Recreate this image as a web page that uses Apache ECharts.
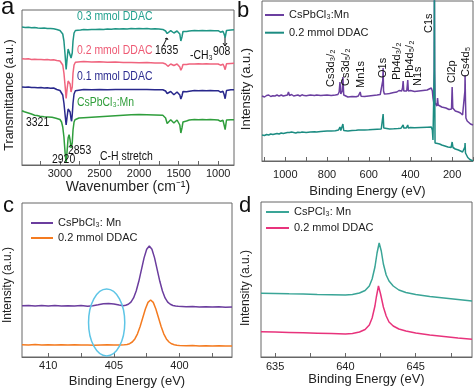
<!DOCTYPE html>
<html><head><meta charset="utf-8">
<script src="https://cdn.jsdelivr.net/npm/echarts@6/dist/echarts.min.js"></script>
<style>html,body{margin:0;padding:0;background:#fff}#c{width:474px;height:389px}</style>
</head><body><div id="c"></div>
<script>
// ---------- Panel a: FTIR (wavenumber, transmittance a.u.) ----------
const ftirTickValues = [1000, 1250, 1500, 1750, 2000, 2250, 2500, 2750, 3000, 3250];
const ftirLabelValues = [1000, 1500, 2000, 2500, 3000];
const ftir03 = [[3480,138],[3440,137.6],[3400,137.8],[3360,137.2],[3320,137.5],[3280,137],[3240,136.8],[3200,136.9],[3160,136.4],[3120,136.5],[3080,136.2],[3040,135.5],[3000,134.5],[2980,133.5],[2965,131],[2950,124],[2935,110],[2922,95.5],[2910,106],[2897,116],[2885,118],[2872,114],[2860,107],[2853,105.5],[2845,112],[2835,124],[2822,132],[2805,134.5],[2780,135.2],[2740,135],[2700,135.4],[2650,135.2],[2600,135.6],[2550,135.4],[2500,135.8],[2450,135.6],[2400,136],[2350,135.8],[2300,136.2],[2250,136],[2200,136.3],[2150,136.1],[2100,136.4],[2050,136.2],[2000,136.4],[1950,136.2],[1900,136.4],[1850,136.1],[1800,136.3],[1750,136],[1700,135.6],[1665,134],[1645,131.5],[1635,131],[1622,133.5],[1600,134.3],[1580,133.5],[1560,132],[1545,133],[1520,134],[1500,134],[1485,131],[1472,124],[1465,123.5],[1458,128],[1445,133.5],[1420,134],[1400,133.5],[1380,132.5],[1365,134],[1340,134.3],[1300,134.4],[1250,134.2],[1200,134.4],[1150,134.3],[1100,134.5],[1050,134.2],[1000,134.3],[985,133.5],[970,132.8],[955,134],[940,133.8],[925,131],[912,127.5],[905,128.5],[895,134.5],[870,134.8],[840,135],[800,135.3]];
const ftir02 = [[3480,106.3],[3440,106],[3400,106.2],[3360,105.6],[3320,105.8],[3280,105.4],[3240,105.5],[3200,105.2],[3160,105.4],[3120,105],[3080,105.2],[3040,104.5],[3000,104],[2980,103],[2965,100],[2950,92],[2935,79],[2922,66.5],[2910,76],[2897,84],[2885,85.5],[2872,81],[2860,73],[2853,71],[2845,78],[2835,92],[2822,100],[2805,102.8],[2780,103.5],[2740,103.3],[2700,103.4],[2600,103.1],[2500,103.2],[2400,102.8],[2300,102.9],[2200,102.5],[2100,102.6],[2000,102.3],[1900,102.4],[1800,102.1],[1700,102],[1665,101],[1645,99],[1635,98.7],[1622,100.5],[1600,101],[1580,100.2],[1560,99.5],[1545,100.2],[1520,101],[1500,101],[1485,98],[1472,94.8],[1465,94.3],[1458,97],[1445,100.5],[1420,101],[1400,100.5],[1380,99.7],[1365,101],[1340,101.2],[1300,101],[1250,101.2],[1200,101],[1150,101.2],[1100,101],[1050,101.1],[1000,101],[985,100.4],[970,99.8],[955,101],[940,100.8],[925,98.5],[912,95.3],[905,96],[895,101.2],[870,101.5],[840,101.6],[800,101.7]];
const ftir01 = [[3480,78],[3440,77.8],[3400,78],[3360,77.4],[3320,77.6],[3280,77.2],[3240,77.4],[3200,77],[3160,77.2],[3120,76.8],[3080,77],[3040,75.5],[3000,74.5],[2980,73.7],[2965,70],[2950,62],[2935,50],[2922,40],[2910,48],[2897,56],[2885,57],[2872,53],[2860,46],[2853,43.7],[2845,50],[2835,62],[2822,71],[2805,74.3],[2780,75.2],[2700,75.4],[2600,75.2],[2500,75.5],[2400,75.3],[2300,75.6],[2200,75.4],[2100,75.6],[2000,75.4],[1900,75.5],[1800,75.3],[1700,75.3],[1665,74],[1645,71.5],[1635,71],[1622,73],[1600,73.5],[1580,72],[1560,70.3],[1545,71.5],[1520,73],[1500,73],[1485,70],[1472,66],[1465,65.3],[1458,69],[1445,73.5],[1420,74],[1400,73.2],[1380,72],[1365,73.8],[1340,74.3],[1300,74.4],[1250,74.2],[1200,74.4],[1150,74.2],[1100,74.4],[1050,74.2],[1000,74.3],[985,73.5],[970,72.8],[955,74],[940,73.8],[925,70.5],[912,66.3],[905,67],[895,74.5],[870,75],[840,75.2],[800,75.3]];
const ftirMn = [[3480,54.3],[3450,53.2],[3420,52.5],[3390,51.8],[3360,51],[3321,49.8],[3290,49.5],[3253,48.7],[3200,48.3],[3150,48],[3100,47.7],[3050,46.8],[3000,45.5],[2980,43],[2965,38],[2950,28],[2935,12],[2922,2],[2910,14],[2897,27],[2885,30.3],[2872,25],[2860,17],[2853,15.3],[2845,22],[2835,35],[2822,43],[2810,45.3],[2790,46.5],[2760,47],[2700,47.3],[2600,47.8],[2500,48.3],[2400,48.8],[2300,49.3],[2200,49.8],[2100,50.3],[2000,50.4],[1900,50.2],[1800,50],[1700,49.7],[1665,47],[1645,41.5],[1635,40.3],[1622,43],[1600,45.3],[1580,44],[1560,42],[1545,43.5],[1520,45],[1500,45],[1485,40],[1472,32],[1465,31],[1458,37],[1445,43],[1420,44.3],[1400,44],[1380,43.7],[1365,45],[1340,45.3],[1300,45.5],[1250,45.3],[1200,45.5],[1150,45.3],[1100,45.5],[1050,45.3],[1000,45],[985,44.3],[970,43.7],[955,45],[940,44.8],[925,40],[912,35.3],[905,36.5],[895,45],[870,45.3],[840,45.2],[800,45.3]];

// ---------- Panel b: XPS survey (binding energy eV, intensity a.u.) ----------
const surveyTickValues = [100, 200, 300, 400, 500, 600, 700, 800, 900, 1000, 1100];
const surveyLabelValues = [200, 400, 600, 800, 1000];
const surveyMn = [[1112,65],[1100,64],[1090,65.5],[1080,66],[1070,64.5],[1060,65.2],[1050,65],[1040,66],[1030,64.8],[1020,66],[1010,65],[1000,65.5],[990,66],[985,69],[980,65.5],[970,66.5],[960,65],[950,65.5],[940,66],[930,65],[920,66.2],[910,65.4],[900,65.2],[880,66],[860,65.5],[850,66],[830,65.4],[800,66],[780,65.6],[760,66],[748,66.5],[742,69],[738,79],[734,67],[730,66],[727,70],[724,84],[720,66],[716,64.5],[700,64],[680,64.5],[660,64.2],[650,65],[644,66],[641,69],[637,64.8],[620,64.5],[600,65],[580,65.5],[560,66],[545,66.5],[536,67.5],[533,80],[531,93],[529,70],[525,67],[510,67.2],[500,67.5],[480,68.5],[465,69],[455,70.5],[448,72],[442,70],[438,73],[435,80],[432,70],[425,69.5],[418,70],[415,76],[413,81],[410,70],[405,69],[400,70.5],[395,69.5],[380,69.5],[360,70],[340,70.5],[320,71],[310,72],[300,73],[295,70],[292,63],[288,58],[286,90],[285,165],[284,90],[282,58],[278,56],[273,55],[270,63],[267,56],[262,55],[250,54],[240,53.5],[230,53],[215,51.5],[203,52],[200,74],[197,53],[193,51],[185,50],[170,49],[160,48],[150,46],[145,45],[141,44],[139,70],[138,86],[136,60],[134,43],[128,40],[120,38],[112,37],[105,36.5],[100,36]];
const survey02 = [[1112,26],[1100,25.5],[1090,26.5],[1080,26],[1070,27],[1060,26.5],[1050,27],[1040,27.5],[1030,27],[1020,28],[1010,27.5],[1000,28],[990,28.5],[985,30],[980,28.5],[970,29],[960,28.5],[950,28],[940,28.8],[930,28.4],[920,29],[900,28.6],[880,29],[860,29.2],[850,29],[830,29.6],[800,30],[780,30],[760,30.2],[745,31],[738,34],[734,30.5],[728,31],[724,37],[720,30.5],[700,30],[680,30.5],[660,30.8],[650,31],[641,32],[635,31],[620,31],[600,31.2],[580,31.5],[560,31.8],[540,32],[534,34],[531,47],[528,33],[520,32],[500,32],[480,32.2],[460,32.5],[445,32.8],[440,33],[435,36],[432,33],[420,33],[416,34],[413,36],[410,33],[400,33.5],[380,33.2],[350,33.5],[320,33.8],[300,34],[295,31],[292,21],[288,19],[286,90],[285,180],[284,90],[282,18],[275,18.5],[270,17.5],[260,17],[250,16],[235,15],[220,14],[205,13.5],[200,19],[196,13.5],[185,12],[170,11],[160,10],[150,9],[142,8],[139,14],[138,18],[136,8],[133,6],[125,3.5],[115,1.5],[100,0]];

// ---------- Panel c: N 1s (binding energy eV, intensity a.u.) ----------
const n1sTickValues = [397.5, 400, 402.5, 405, 407.5, 410];
const n1sLabelValues = [400, 405, 410];
const n1sMn = [[412,51.2],[411.5,51.6],[411,51],[410.5,51.4],[410,51.1],[409.5,51.5],[409,50.9],[408.5,51.3],[408,51],[407.5,51.4],[407,50.8],[406.6,51.3],[406.2,52.2],[405.8,53.2],[405.4,53.6],[405,53.1],[404.6,52],[404.3,51.2],[404.1,51.7],[403.9,52.7],[403.7,54.9],[403.5,59.1],[403.3,66],[403.1,75.7],[402.9,87.4],[402.7,99.1],[402.5,107.8],[402.3,111],[402.1,107.8],[401.9,99.1],[401.7,87.4],[401.5,75.7],[401.3,66],[401.1,59.1],[400.9,54.9],[400.7,52.7],[400.5,51.5],[400.3,51],[400.1,50.7],[399.5,50.3],[399,50.5],[398.5,50.1],[398,50.3],[397.5,49.9],[397,50.2],[396.5,49.8],[396,50]];
const n1s02 = [[412,12.3],[411.5,12],[411,12.4],[410.5,12.1],[410,12.3],[409.5,11.9],[409,12.2],[408.5,12],[408,12.3],[407.5,11.9],[407,12.1],[406.5,11.8],[406,12],[405.5,12.2],[405,11.9],[404.5,12.1],[404.2,12.2],[404,12.5],[403.8,13.3],[403.6,15],[403.4,18.1],[403.2,23.2],[403,30.5],[402.8,39.3],[402.6,48],[402.4,54.6],[402.2,57],[402,54.6],[401.8,48],[401.6,39.3],[401.4,30.5],[401.2,23.2],[401,18.1],[400.8,15],[400.6,13.2],[400.4,12.3],[400.2,11.8],[400,11.5],[399.5,11.3],[399,11.4],[398.5,11.1],[398,11.3],[397.5,11],[397,11.2],[396.5,11],[396,11.1]];

// ---------- Panel d: Mn 2p (binding energy eV, intensity a.u.) ----------
const mnTickValues = [635, 637.5, 640, 642.5, 645, 647.5];
const mnLabelValues = [635, 640, 645];
const mnMn = [[634,63.7],[635,63.5],[636,63.2],[637,63],[638,62.6],[639,62.3],[640,62],[640.5,62.5],[641,64],[641.4,66.5],[641.7,71],[641.9,78],[642.1,90],[642.25,104],[642.4,114],[642.55,106],[642.7,93],[642.9,82],[643.1,76],[643.4,71],[643.8,67],[644.3,64.5],[645,62.5],[646,60.5],[647,59],[648,57.5],[649,56]];
const mn02 = [[634,25.3],[635,25],[636,24.6],[637,24.2],[638,23.8],[639,23.4],[640,23],[640.5,23.4],[641,25],[641.4,27.5],[641.7,32],[641.9,39],[642.1,51],[642.2,60],[642.35,71],[642.5,63],[642.7,50],[642.9,41],[643.1,35],[643.4,31],[643.8,28],[644.3,26],[645,24],[646,22],[647,20.5],[648,19],[649,17.7]];

const FONT = 'Liberation Sans, Arial, Helvetica, sans-serif';
const AX = '#666';

function xAx(gi, min, max, inverse, ticks, labels, name, gap, margin, nsize) {
  return {
    type: 'value', gridIndex: gi, min, max, inverse,
    axisLine: { show: true, lineStyle: { color: AX, width: 1 } },
    axisTick: { show: true, inside: true, length: 4, customValues: ticks, lineStyle: { color: AX } },
    axisLabel: { show: true, customValues: labels, margin, fontSize: 11, color: '#222', fontFamily: FONT,
      formatter: v => String(v) },
    splitLine: { show: false },
    name, nameLocation: 'middle', nameGap: gap,
    nameTextStyle: { fontSize: nsize, color: '#222', fontFamily: FONT }
  };
}
function yAx(gi, max) {
  return { type: 'value', gridIndex: gi, min: 0, max,
    axisLine: { show: false }, axisTick: { show: false }, axisLabel: { show: false }, splitLine: { show: false } };
}
function ser(name, gi, data, color, w) {
  return { name, type: 'line', xAxisIndex: gi, yAxisIndex: gi, data, symbol: 'none', showSymbol: false,
    lineStyle: { color, width: w || 1.5 }, itemStyle: { color }, emphasis: { disabled: true }, animation: false };
}
const gridBase = { show: true, borderColor: AX, borderWidth: 1, backgroundColor: 'transparent', containLabel: false };
const legendBase = { orient: 'vertical', padding: 0, icon: 'rect', itemHeight: 2, selectedMode: false,
  formatter: n => n.split('|')[1], textStyle: { fontSize: 11, lineHeight: 13, color: '#222', fontFamily: FONT } };

const chart = echarts.init(document.getElementById('c'));
chart.setOption({
  animation: false,
  textStyle: { fontFamily: FONT },
  grid: [
    Object.assign({ left: 22, top: 10, width: 212, height: 155 }, gridBase),
    Object.assign({ left: 262, top: 1, width: 211, height: 160 }, gridBase),
    Object.assign({ left: 22, top: 203, width: 210, height: 154 }, gridBase),
    Object.assign({ left: 261, top: 202, width: 211, height: 155 }, gridBase)
  ],
  xAxis: [
    xAx(0, 800, 3480, true, ftirTickValues, ftirLabelValues, 'Wavenumber (cm\u207B\u00B9)', 14, 3, 14),
    xAx(1, 100, 1112, true, surveyTickValues, surveyLabelValues, 'Binding Energy (eV)', 24, 8, 13),
    xAx(2, 396, 412, true, n1sTickValues, n1sLabelValues, 'Binding Energy (eV)', 18, 3, 13),
    xAx(3, 634, 649, false, mnTickValues, mnLabelValues, 'Binding Energy (eV)', 15, 4, 13)
  ],
  yAxis: [yAx(0, 155), yAx(1, 160), yAx(2, 154), yAx(3, 155)],
  legend: [
    Object.assign({ left: 265, top: 8.5, itemWidth: 19, itemGap: 4.7, data: ['b|CsPbCl\u2083:Mn', 'b|0.2 mmol DDAC'] }, legendBase),
    Object.assign({ left: 31, top: 216.5, itemWidth: 22, itemGap: 2, data: ['c|CsPbCl\u2083: Mn', 'c|0.2 mmol DDAC'] }, legendBase),
    Object.assign({ left: 266, top: 205.5, itemWidth: 23, itemGap: 3, data: ['d|CsPCl\u2083: Mn', 'd|0.2 mmol DDAC'] }, legendBase)
  ],
  series: [
    ser('a|0.3 mmol DDAC', 0, ftir03, '#1f9585'),
    ser('a|0.2 mmol DDAC', 0, ftir02, '#f0647e'),
    ser('a|0.1 mmol DDAC', 0, ftir01, '#28288c'),
    ser('a|CsPbCl\u2083:Mn', 0, ftirMn, '#2f9e3c'),
    ser('b|CsPbCl\u2083:Mn', 1, surveyMn, '#6b3fa0'),
    ser('b|0.2 mmol DDAC', 1, survey02, '#1c8c82'),
    ser('c|CsPbCl\u2083: Mn', 2, n1sMn, '#6b3d9e'),
    ser('c|0.2 mmol DDAC', 2, n1s02, '#f47b20'),
    ser('d|CsPCl\u2083: Mn', 3, mnMn, '#3aa597'),
    ser('d|0.2 mmol DDAC', 3, mn02, '#e8337c')
  ]
});

// ---------- annotations ----------
function txt(text, x, y, opt) {
  opt = opt || {};
  return { type: 'text', x, y, rotation: opt.rot || 0, scaleX: opt.sx || 1, silent: true, z: 10,
    style: { text, fill: opt.color || '#111', fontSize: opt.size || 11, fontFamily: FONT,
      align: opt.align || 'left', verticalAlign: opt.va || 'middle' } };
}
const R = Math.PI / 2;
const SX = 0.87;
const g = [
  txt('a', 1, 7, { size: 24 }), txt('b', 237, 11, { size: 22 }),
  txt('c', 3, 206, { size: 22 }), txt('d', 239, 206, { size: 22 }),
  txt('Transmittance (a.u.)', 10, 95, { rot: R, align: 'center', size: 12.5, color: '#222' }),
  txt('Intensity (a.u.)', 246, 89, { rot: R, align: 'center', size: 13, color: '#222' }),
  txt('Intensity (a.u.)', 8, 285, { rot: R, align: 'center', size: 12, color: '#222' }),
  txt('Intensity (a.u.)', 246, 288, { rot: R, align: 'center', size: 12, color: '#222' }),
  // panel a labels
  txt('0.3 mmol DDAC', 77, 17, { color: '#22a08e', size: 12, sx: SX }),
  txt('0.2 mmol DDAC', 77, 51, { color: '#ee5a74', size: 12, sx: SX }),
  txt('0.1 mmol DDAC', 77, 77, { color: '#2b2b8f', size: 12, sx: SX }),
  txt('CsPbCl\u2083:Mn', 77, 103, { color: '#2f9e3a', size: 12, sx: SX }),
  txt('1635', 155, 51, { size: 12, sx: SX }), txt('-CH\u2083', 190, 56, { size: 12, sx: SX }),
  txt('908', 213, 52, { size: 12, sx: SX }),
  txt('3321', 26, 123, { size: 12, sx: SX }), txt('2853', 68, 151, { size: 12, sx: SX }),
  txt('2920', 52, 160, { size: 12, sx: SX }), txt('C-H stretch', 100, 157, { size: 12, sx: SX }),
  { type: 'polyline', silent: true, shape: { points: [[163, 46], [167, 38]] }, style: { stroke: '#111', lineWidth: 1, fill: null } },
  { type: 'polyline', silent: true, shape: { points: [[165, 39], [167, 38], [168, 40]] }, style: { stroke: '#111', lineWidth: 1, fill: null } },
  { type: 'polyline', silent: true, shape: { points: [[225, 37], [225, 46]] }, style: { stroke: '#111', lineWidth: 1, fill: null } },
  { type: 'polyline', silent: true, shape: { points: [[223, 43], [225, 46], [227, 43]] }, style: { stroke: '#111', lineWidth: 1, fill: null } },
  // panel b peak labels (rotated)
  txt('Cs3d\u2083/\u2082', 331, 87, { rot: R }),
  txt('Cs3d\u2085/\u2082', 346, 86, { rot: R }),
  txt('Mn1s', 361, 88, { rot: R }),
  txt('O1s', 383, 78, { rot: R }),
  txt('Pb4d\u2083/\u2082', 397, 80, { rot: R }),
  txt('Pb4d\u2085/\u2082', 410, 78, { rot: R }),
  txt('N1s', 418, 86, { rot: R }),
  txt('C1s', 429, 33, { rot: R }),
  txt('Cl2p', 452, 83, { rot: R }),
  txt('Cs4d\u2085', 466, 77, { rot: R })
];
// ellipse marking the N 1s shoulder (placed from data coordinates)
const ellC = chart.convertToPixel({ xAxisIndex: 2, yAxisIndex: 2 }, [405.55, 34.5]);
const ellE = chart.convertToPixel({ xAxisIndex: 2, yAxisIndex: 2 }, [405.55 - 1.38, 34.5 + 33.5]);
g.push({ type: 'ellipse', silent: true, z: 5,
  shape: { cx: ellC[0], cy: ellC[1], rx: Math.abs(ellE[0] - ellC[0]), ry: Math.abs(ellE[1] - ellC[1]) },
  style: { fill: null, stroke: '#5ec5e6', lineWidth: 1.5 } });
chart.setOption({ graphic: g });
</script>
</body></html>
